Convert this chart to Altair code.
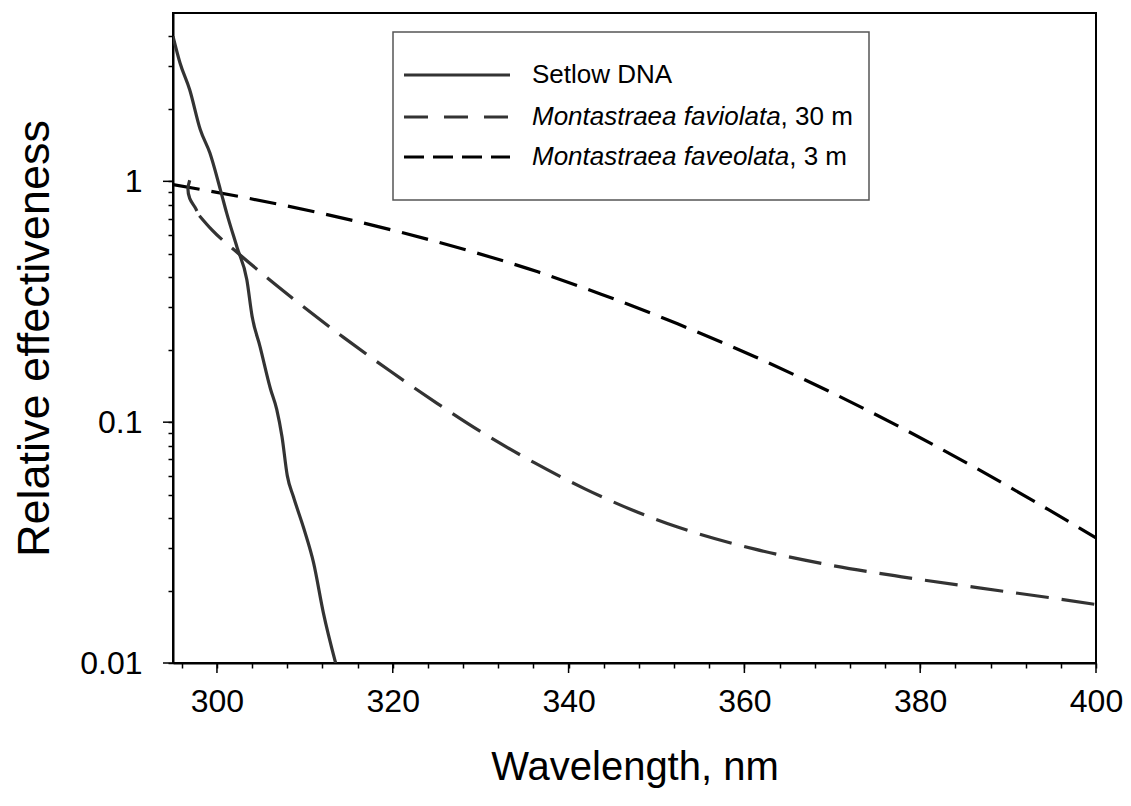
import altair as alt
import pandas as pd

# ---- data ----
setlow_wl = [295.0, 295.8, 296.9, 298.1, 299.2, 300.4, 301.1, 302.3, 303.4, 304.0,
             304.9, 306.1, 306.8, 307.4, 308.0, 308.7, 309.9, 311.0, 312.1, 313.5]
setlow_val = [4.0, 3.1, 2.4, 1.64, 1.31, 0.92, 0.74, 0.53, 0.39, 0.275,
              0.206, 0.137, 0.113, 0.087, 0.060, 0.049, 0.036, 0.026, 0.0162, 0.01]

# 30 m curve: the short hook at the start, then the main descending curve
deep_hook_wl = [296.9, 296.7, 296.9, 297.5, 298.0]
deep_hook_val = [1.01, 0.93, 0.85, 0.78, 0.72]
deep_wl = [298.0, 299.4, 302.6, 308.7, 314.4, 319.7, 325.0, 330.4, 336.1, 341.8,
           347.1, 352.4, 361.2, 369.5, 377.9, 386.3, 394.6, 400.0]
deep_val = [0.72, 0.630, 0.496, 0.325, 0.225, 0.163, 0.120, 0.0895, 0.0679, 0.0530,
            0.0434, 0.0367, 0.0297, 0.0256, 0.0228, 0.0206, 0.0187, 0.0175]

shallow_wl = [295.0, 303.4, 311.8, 320.5, 328.9, 336.5, 343.7, 352.4, 361.2, 369.5,
              377.9, 386.3, 394.6, 400.0]
shallow_val = [0.970, 0.853, 0.738, 0.620, 0.512, 0.421, 0.340, 0.256, 0.187, 0.135,
               0.0946, 0.0646, 0.0433, 0.0331]

legend_italic = ["", "Montastraea faviolata", "Montastraea faveolata"]
legend_plain = ["Setlow DNA", ", 30 m", ", 3 m"]

x_ticks = list(range(296, 401, 4))
x_major = [300, 320, 340, 360, 380, 400]
y_ticks = [0.01, 0.02, 0.03, 0.04, 0.05, 0.06, 0.07, 0.08, 0.09,
           0.1, 0.2, 0.3, 0.4, 0.5, 0.6, 0.7, 0.8, 0.9, 1, 2, 3, 4]
y_major = [0.01, 0.1, 1]

# ---- styles ----
C_SETLOW, C_DEEP, C_SHALLOW = "#333333", "#333333", "#000000"
D_DEEP, D_SHALLOW = [33, 13], [27, 12]
FONT = "Liberation Sans"
LW = 3.2

x_enc = alt.X(
    "wl:Q",
    scale=alt.Scale(domain=[295, 400], nice=False, zero=False),
    axis=alt.Axis(
        values=x_ticks,
        labelExpr="datum.value % 20 == 0 ? datum.label : ''",
        tickSize=5,
        labelFontSize=32, labelFont=FONT, labelColor="black", labelPadding=18,
        title="Wavelength, nm", titleFontSize=40, titleFont=FONT,
        titleFontWeight="normal", titleColor="black", titlePadding=30,
        grid=False, domainColor="black", domainWidth=2, tickColor="black",
        tickWidth=1.5, labelFlush=False,
    ),
)
y_enc = alt.Y(
    "val:Q",
    scale=alt.Scale(type="log", domain=[0.01, 5], nice=False),
    axis=alt.Axis(
        values=y_ticks,
        labelExpr="datum.value == 1 ? '1' : (datum.value == 0.1 ? '0.1' : (datum.value == 0.01 ? '0.01' : ''))",
        tickSize=5,
        labelFontSize=32, labelFont=FONT, labelColor="black", labelPadding=26,
        title="Relative effectiveness", titleFontSize=45, titleFont=FONT,
        titleFontWeight="normal", titleColor="black", titlePadding=22,
        grid=False, domainColor="black", domainWidth=2, tickColor="black",
        tickWidth=1.5, labelFlush=False,
    ),
)


def curve(wl, val, color, dash, interp):
    d = pd.DataFrame({"wl": wl, "val": val, "idx": list(range(len(wl)))})
    kw = dict(strokeWidth=LW, color=color, interpolate=interp, clip=True)
    if dash:
        kw["strokeDash"] = dash
    return alt.Chart(d).mark_line(**kw).encode(x=x_enc, y=y_enc, order="idx:Q")


layers = [
    curve(shallow_wl, shallow_val, C_SHALLOW, D_SHALLOW, "monotone"),
    curve(deep_hook_wl, deep_hook_val, C_DEEP, D_DEEP, "catmull-rom"),
    curve(deep_wl, deep_val, C_DEEP, D_DEEP, "monotone"),
    curve(setlow_wl, setlow_val, C_SETLOW, None, "monotone"),
]

# longer major ticks, positioned through the axis scales
layers.append(
    alt.Chart(pd.DataFrame({"wl": x_major})).mark_rule(color="black", strokeWidth=1.5).encode(
        x=x_enc, y=alt.value(650), y2=alt.value(660)
    )
)
layers.append(
    alt.Chart(pd.DataFrame({"val": y_major})).mark_rule(color="black", strokeWidth=1.5).encode(
        y=y_enc, x=alt.value(0), x2=alt.value(-10)
    )
)

# ---- manual legend (pixel positions inside plot area) ----
layers.append(
    alt.Chart(pd.DataFrame({"a": [0]})).mark_rect(
        fill="white", stroke="#555555", strokeWidth=1.5
    ).encode(x=alt.value(220), x2=alt.value(696), y=alt.value(19), y2=alt.value(187))
)

row_y = [62, 104, 144]
leg_colors = [C_SETLOW, C_DEEP, C_SHALLOW]
leg_dashes = [None, [24, 16], [20, 9]]
for i in range(3):
    kw = dict(color=leg_colors[i], strokeWidth=LW)
    if leg_dashes[i]:
        kw["strokeDash"] = leg_dashes[i]
    layers.append(
        alt.Chart(pd.DataFrame({"a": [0]})).mark_rule(**kw).encode(
            x=alt.value(231), x2=alt.value(337), y=alt.value(row_y[i])
        )
    )

# Arial/Liberation metric widths (em) to place the plain suffix after the italic part
widths = {"M": .833, "o": .556, "n": .556, "t": .278, "a": .556, "s": .5, "r": .333,
          "e": .556, " ": .278, "f": .278, "v": .5, "i": .222, "l": .222}
LFS = 26
text_x = 359
for i in range(3):
    y = row_y[i]
    x_plain = text_x
    if legend_italic[i]:
        x_plain = text_x + sum(widths.get(c, .556) for c in legend_italic[i]) * LFS
        layers.append(
            alt.Chart(pd.DataFrame({"t": [legend_italic[i]]})).mark_text(
                align="left", baseline="middle", fontSize=LFS, font=FONT,
                fontStyle="italic", color="black"
            ).encode(text="t:N", x=alt.value(text_x), y=alt.value(y))
        )
    layers.append(
        alt.Chart(pd.DataFrame({"t": [legend_plain[i]]})).mark_text(
            align="left", baseline="middle", fontSize=LFS, font=FONT, color="black"
        ).encode(text="t:N", x=alt.value(x_plain), y=alt.value(y))
    )

chart = alt.layer(*layers).properties(
    width=923, height=650,
    autosize=alt.AutoSizeParams(type="none"),
    padding={"left": 173, "top": 13, "right": 35, "bottom": 143},
    background="white",
).configure_view(stroke="black", strokeWidth=2)

chart.save("out.html", embed_options={"renderer": "svg", "actions": False})
